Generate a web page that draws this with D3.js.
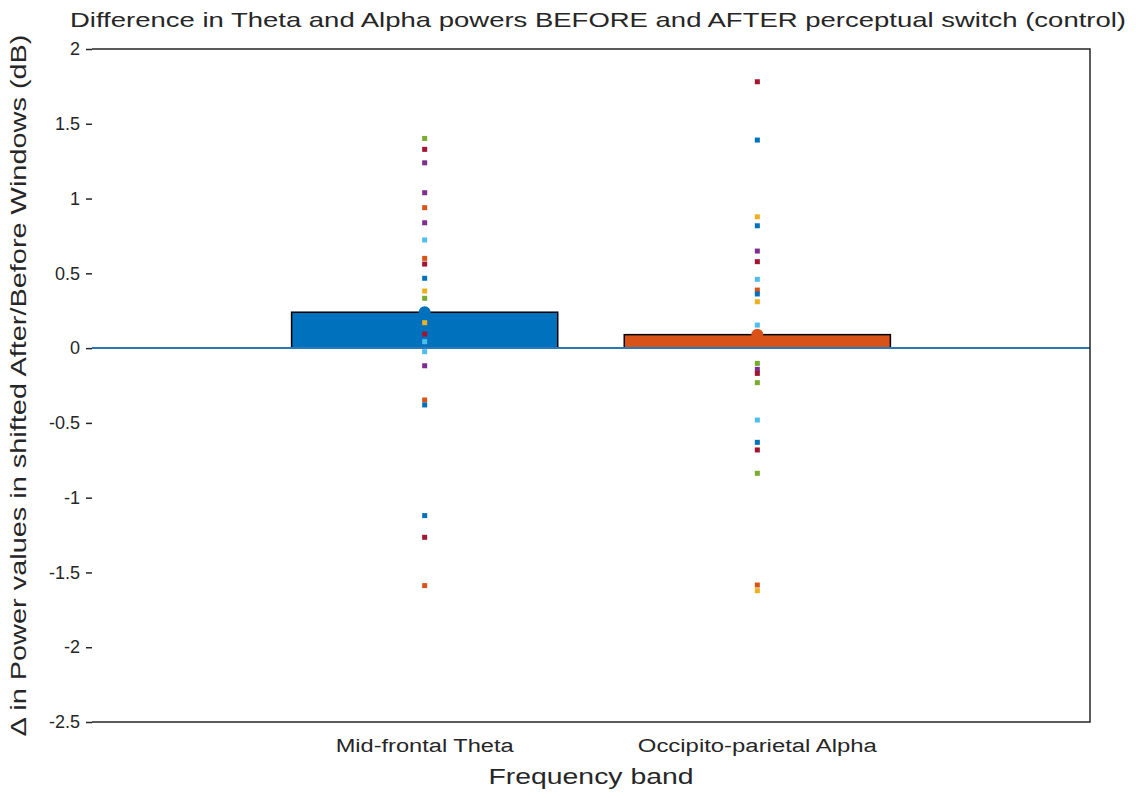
<!DOCTYPE html>
<html>
<head>
<meta charset="utf-8">
<script src="https://cdn.jsdelivr.net/npm/d3@7"></script>
<style>
  body { margin: 0; background: #fff; }
  text { font-family: "Liberation Sans", Arial, sans-serif; fill: #262626; }
</style>
</head>
<body>
<div id="chart"></div>
<script>
// chart data
var categories = ["Mid-frontal Theta", "Occipito-parietal Alpha"];
var categoryWidths = [178, 239]; // label widths as rendered in the original
var barValues = [0.24, 0.09];
var barColors = ["#0072BD", "#D95319"];

// single subject values per band, with the colour they were drawn in
var thetaPoints = [1.402, 1.329, 1.239, 1.039, 0.939, 0.838, 0.723, 0.600, 0.562, 0.467, 0.382, 0.333,
                   0.170, 0.094, 0.043, -0.024, -0.118, -0.347, -0.380, -1.120, -1.265, -1.588];
var thetaColors = ["#77AC30", "#A2142F", "#7E2F8E", "#7E2F8E", "#D95319", "#7E2F8E", "#4DBEEE", "#D95319", "#A2142F", "#0072BD", "#EDB120", "#77AC30",
                   "#EDB120", "#A2142F", "#4DBEEE", "#4DBEEE", "#7E2F8E", "#D95319", "#0072BD", "#0072BD", "#A2142F", "#D95319"];
var alphaPoints = [1.781, 1.391, 0.878, 0.818, 0.649, 0.578, 0.460, 0.388, 0.362, 0.310, 0.154,
                   -0.102, -0.142, -0.169, -0.231, -0.481, -0.630, -0.681, -0.837, -1.584, -1.622];
var alphaColors = ["#A2142F", "#0072BD", "#EDB120", "#0072BD", "#7E2F8E", "#A2142F", "#4DBEEE", "#D95319", "#0072BD", "#EDB120", "#4DBEEE",
                   "#77AC30", "#7E2F8E", "#A2142F", "#77AC30", "#4DBEEE", "#0072BD", "#A2142F", "#77AC30", "#D95319", "#EDB120"];

var yTicks = [-2.5, -2, -1.5, -1, -0.5, 0, 0.5, 1, 1.5, 2];
var yTickLabels = ["-2.5", "-2", "-1.5", "-1", "-0.5", "0", "0.5", "1", "1.5", "2"];

var titleText = "Difference in Theta and Alpha powers BEFORE and AFTER perceptual switch (control)";
var yLabelText = "\u0394 in Power values in shifted After/Before Windows (dB)";
var xLabelText = "Frequency band";

function init() {
    var W = 1136, H = 798;
    var margin = { top: 49, right: 46, bottom: 76, left: 92 },
        w = W - margin.left - margin.right,
        h = H - margin.top - margin.bottom;

    var svg = d3.select("#chart")
        .append("svg")
        .attr("width", W)
        .attr("height", H);

    var g = svg.append("g")
        .attr("transform", `translate(${margin.left},${margin.top})`);

    // x runs 0..3 with the two bands at 1 and 2 (like matlab bar)
    var xScale = d3.scaleLinear().domain([0, 3]).range([0, w]);
    var yScale = d3.scaleLinear().domain([-2.5, 2]).range([h, 0]);
    var barW = xScale(0.8) - xScale(0);

    // bars
    g.selectAll("rect.bar")
        .data(barValues)
        .enter()
        .append("rect")
        .attr("class", "bar")
        .attr("x", (d, i) => xScale(i + 1) - barW / 2)
        .attr("y", d => yScale(d))
        .attr("width", barW)
        .attr("height", d => yScale(0) - yScale(d))
        .attr("fill", (d, i) => barColors[i])
        .attr("stroke", "#000")
        .attr("stroke-width", 1.5);

    // zero line
    g.append("line")
        .attr("x1", 0).attr("x2", w)
        .attr("y1", yScale(0)).attr("y2", yScale(0))
        .attr("stroke", "#2a78b8")
        .attr("stroke-width", 2);

    // individual points
    var sets = [
        { pts: thetaPoints, cols: thetaColors, x: 1 },
        { pts: alphaPoints, cols: alphaColors, x: 2 }
    ];
    sets.forEach(s => {
        g.selectAll(null)
            .data(s.pts)
            .enter()
            .append("rect")
            .attr("x", xScale(s.x) - 2.5)
            .attr("y", d => yScale(d) - 2.5)
            .attr("width", 5)
            .attr("height", 5)
            .attr("fill", (d, i) => s.cols[i]);
    });

    // mean markers on top of the bars
    g.selectAll("circle.mean")
        .data(barValues)
        .enter()
        .append("circle")
        .attr("class", "mean")
        .attr("cx", (d, i) => xScale(i + 1))
        .attr("cy", d => yScale(d))
        .attr("r", 6)
        .attr("fill", (d, i) => barColors[i]);

    // box: top, right, bottom (left side is not drawn in the original)
    g.append("path")
        .attr("d", `M0,0H${w}V${h}H0`)
        .attr("fill", "none")
        .attr("stroke", "#262626")
        .attr("stroke-width", 1.5);

    // y axis
    var yAxis = g.append("g")
        .call(d3.axisLeft(yScale)
            .tickValues(yTicks)
            .tickFormat((d, i) => yTickLabels[i])
            .tickSize(6)
            .tickPadding(6));
    yAxis.select(".domain").remove();
    yAxis.selectAll("line").attr("stroke", "#262626").attr("stroke-width", 1.5);
    yAxis.selectAll("text")
        .style("font-family", "Liberation Sans, Arial, sans-serif")
        .style("font-size", "18px")
        .attr("fill", "#262626");

    // category labels
    g.selectAll("text.cat")
        .data(categories)
        .enter()
        .append("text")
        .attr("class", "cat")
        .attr("x", (d, i) => xScale(i + 1))
        .attr("y", h + 30)
        .attr("text-anchor", "middle")
        .attr("textLength", (d, i) => categoryWidths[i])
        .attr("lengthAdjust", "spacingAndGlyphs")
        .style("font-size", "18px")
        .text(d => d);

    // axis titles
    g.append("text")
        .attr("x", w / 2)
        .attr("y", h + 62)
        .attr("text-anchor", "middle")
        .attr("textLength", 205)
        .attr("lengthAdjust", "spacingAndGlyphs")
        .style("font-size", "22px")
        .text(xLabelText);

    g.append("text")
        .attr("transform", `translate(${-66},${h / 2}) rotate(-90)`)
        .attr("text-anchor", "middle")
        .attr("textLength", 702)
        .attr("lengthAdjust", "spacingAndGlyphs")
        .style("font-size", "22px")
        .text(yLabelText);

    svg.append("text")
        .attr("x", 598)
        .attr("y", 27)
        .attr("text-anchor", "middle")
        .attr("textLength", 1056)
        .attr("lengthAdjust", "spacingAndGlyphs")
        .style("font-size", "21px")
        .text(titleText);
}

window.onload = init;
</script>
</body>
</html>
